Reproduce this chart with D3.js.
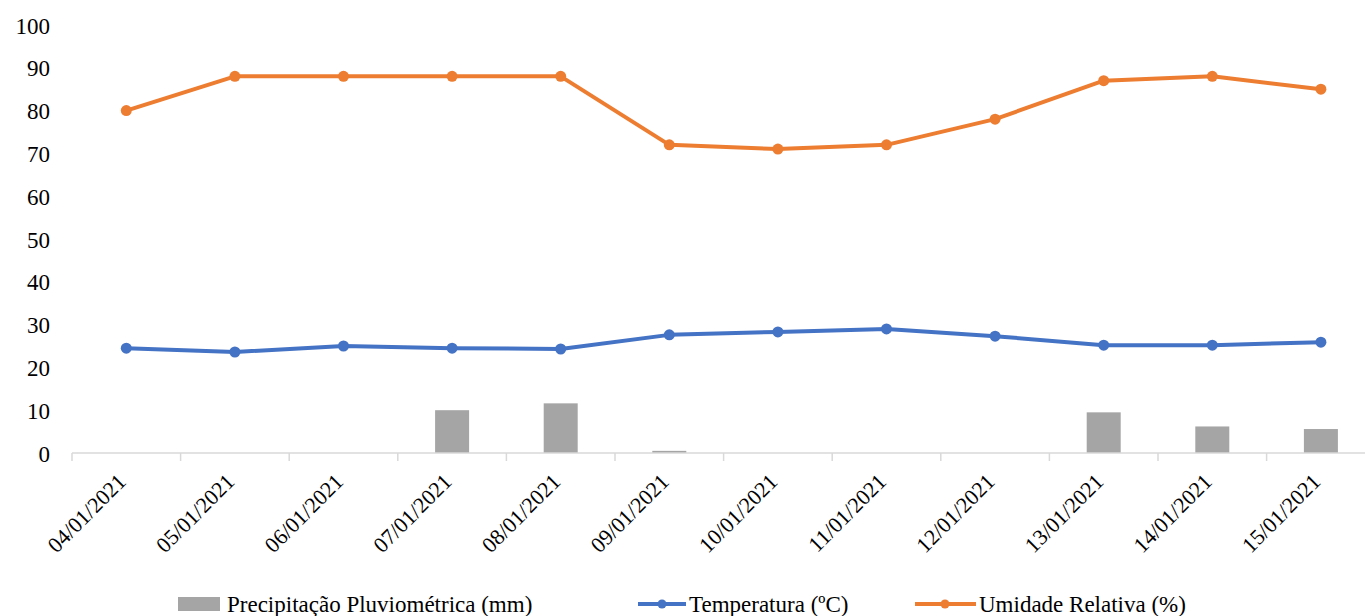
<!DOCTYPE html>
<html>
<head>
<meta charset="utf-8">
<script src="https://cdn.jsdelivr.net/npm/d3@7"></script>
<style>
  html, body { margin: 0; padding: 0; background: #fff; }
  svg { display: block; }
</style>
</head>
<body>
<svg id="chart" width="1365" height="616" font-family="Liberation Serif, Times New Roman, Tinos, DejaVu Serif, serif"></svg>
<script>
// Daily weather records, January 2021
const dates = ["04/01/2021", "05/01/2021", "06/01/2021", "07/01/2021", "08/01/2021", "09/01/2021",
               "10/01/2021", "11/01/2021", "12/01/2021", "13/01/2021", "14/01/2021", "15/01/2021"];
const precipitation = [0, 0, 0, 10.0, 11.6, 0.5, 0, 0, 0, 9.5, 6.2, 5.6];
const temperature = [24.5, 23.6, 25.0, 24.5, 24.3, 27.6, 28.3, 29.0, 27.3, 25.2, 25.2, 25.9];
const humidity = [80, 88, 88, 88, 88, 72, 71, 72, 78, 87, 88, 85];
const yTicks = [0, 10, 20, 30, 40, 50, 60, 70, 80, 90, 100];

const seriesNames = ["Precipitação Pluviométrica (mm)", "Temperatura (ºC)", "Umidade Relativa (%)"];
const colors = { bar: "#A5A5A5", temp: "#4472C4", hum: "#ED7D31" };

const svg = d3.select("#chart");
const plotLeft = 72, plotTop = 25, plotBottom = 453;
const band = 108.6;

const x = d3.scaleBand().domain(dates).range([plotLeft, plotLeft + band * dates.length]).paddingInner(0).paddingOuter(0);
const y = d3.scaleLinear().domain([0, 100]).range([plotBottom, plotTop]);

// Y axis labels (no axis line)
const yAxis = svg.append("g").attr("transform", `translate(${plotLeft},0)`)
  .call(d3.axisLeft(y).tickValues(yTicks).tickSize(0).tickPadding(22));
yAxis.select(".domain").remove();
yAxis.attr("font-family", null).attr("font-size", 23);
yAxis.selectAll("text").attr("fill", "#000").attr("dy", "0.35em");

// Precipitation bars
const barW = 34;
svg.append("g").selectAll("rect").data(precipitation).join("rect")
  .attr("x", (d, i) => x(dates[i]) + x.bandwidth() / 2 - barW / 2)
  .attr("y", d => y(d))
  .attr("width", barW)
  .attr("height", d => y(0) - y(d))
  .attr("fill", colors.bar);

// X axis with boundary ticks
const xg = svg.append("g").attr("transform", `translate(0,${plotBottom})`);
xg.append("line").attr("x1", plotLeft).attr("x2", 1365).attr("y1", 0).attr("y2", 0)
  .attr("stroke", "#D9D9D9").attr("stroke-width", 1.5);
xg.selectAll("line.tick").data(dates).join("line").attr("class", "tick")
  .attr("x1", d => x(d)).attr("x2", d => x(d)).attr("y1", 0).attr("y2", 8)
  .attr("stroke", "#D9D9D9").attr("stroke-width", 1.5);
xg.selectAll("text").data(dates).join("text")
  .attr("transform", d => `translate(${x(d) + x.bandwidth() / 2 + 1},${30}) rotate(-45)`)
  .attr("text-anchor", "end")
  .attr("font-size", 22).attr("fill", "#000")
  .text(d => d);

// Lines with markers
function drawSeries(values, color) {
  const line = d3.line()
    .x((d, i) => x(dates[i]) + x.bandwidth() / 2)
    .y(d => y(d));
  svg.append("path").datum(values)
    .attr("d", line).attr("fill", "none")
    .attr("stroke", color).attr("stroke-width", 4).attr("stroke-linejoin", "round");
  svg.append("g").selectAll("circle").data(values).join("circle")
    .attr("cx", (d, i) => x(dates[i]) + x.bandwidth() / 2)
    .attr("cy", d => y(d))
    .attr("r", 5.5)
    .attr("fill", color);
}
drawSeries(temperature, colors.temp);
drawSeries(humidity, colors.hum);

// Legend
const ly = 604;
const legend = svg.append("g");
function legendText(xPos, label) {
  legend.append("text").attr("x", xPos).attr("y", ly).attr("dy", "0.33em")
    .attr("font-size", 23).attr("fill", "#000")
    .text(label);
}
legend.append("rect").attr("x", 178).attr("y", ly - 7).attr("width", 42).attr("height", 14).attr("fill", colors.bar);
legendText(227, seriesNames[0]);

legend.append("line").attr("x1", 638).attr("x2", 686).attr("y1", ly).attr("y2", ly)
  .attr("stroke", colors.temp).attr("stroke-width", 4);
legend.append("circle").attr("cx", 662).attr("cy", ly).attr("r", 4.5).attr("fill", colors.temp);
legendText(689, seriesNames[1]);

legend.append("line").attr("x1", 915).attr("x2", 976).attr("y1", ly).attr("y2", ly)
  .attr("stroke", colors.hum).attr("stroke-width", 4);
legend.append("circle").attr("cx", 945).attr("cy", ly).attr("r", 4.5).attr("fill", colors.hum);
legendText(979, seriesNames[2]);
</script>
</body>
</html>
